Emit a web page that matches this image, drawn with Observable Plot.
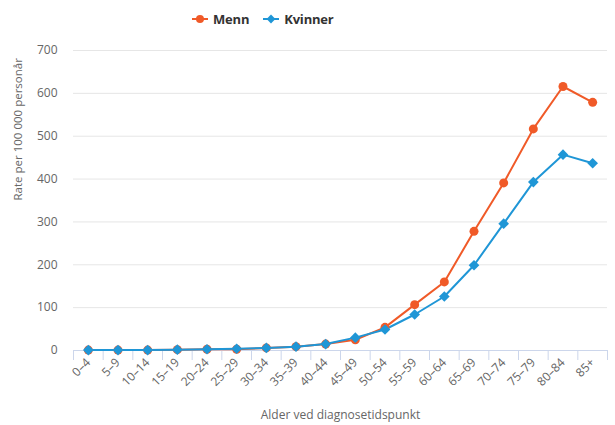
<!DOCTYPE html>
<html><head><meta charset="utf-8">
<script src="https://cdn.jsdelivr.net/npm/d3@7"></script>
<script src="https://cdn.jsdelivr.net/npm/@observablehq/plot@0.6"></script>
<style>
body{margin:0;background:#fff;font-family:"Open Sans",sans-serif;}
#wrap{position:relative;width:615px;height:425px;}
#legend{position:absolute;top:10px;left:192px;display:flex;gap:14px;font-size:13px;font-weight:bold;color:#333;letter-spacing:-0.2px;}
#legend span{display:flex;align-items:center;gap:5px;}
</style></head><body>
<div id="wrap"><div id="legend"></div><div id="chart"></div></div>
<script>
const ageGroups = ["0–4","5–9","10–14","15–19","20–24","25–29","30–34","35–39","40–44","45–49","50–54","55–59","60–64","65–69","70–74","75–79","80–84","85+"];
const menn =    [1, 1, 1, 2, 3, 3, 6, 9, 15, 25, 54, 107, 160, 278, 391, 517, 616, 579];
const kvinner = [1, 1, 1, 2, 3, 4, 6, 9, 15, 30, 49, 84, 126, 199, 296, 393, 457, 437];
const yTicks = [0,100,200,300,400,500,600,700];
const seriesNames = ["Menn","Kvinner"];
const colors = {"Menn":"#f05a28","Kvinner":"#1f96d6"};
const symbols = {"Menn":"circle","Kvinner":"diamond2"};

const rows = [];
ageGroups.forEach((a,i)=>{
  rows.push({i, age:a, serie:"Menn", v:menn[i]});
  rows.push({i, age:a, serie:"Kvinner", v:kvinner[i]});
});
const idx = d3.range(ageGroups.length);
const bounds = d3.range(ageGroups.length+1).map(i=>i-0.5);

const chart = Plot.plot({
  width:615, height:425,
  marginTop:50, marginBottom:75, marginLeft:73, marginRight:8,
  style:{fontFamily:"Open Sans, sans-serif", fontSize:"12px", color:"#666", background:"#fff"},
  x:{type:"linear", domain:[-0.5, ageGroups.length-0.5]},
  y:{domain:[0,700]},
  marks:[
    Plot.gridY(yTicks.filter(t=>t>0), {stroke:"#e6e6e6", strokeOpacity:1}),
    Plot.axisY({ticks:yTicks, tickSize:0, tickPadding:16, label:null, fontSize:12, fill:"#666"}),
    Plot.ruleY([0], {stroke:"#ccd6eb"}),
    Plot.axisX({ticks:bounds, tickSize:10, tickFormat:()=>"", stroke:"#ccd6eb", label:null}),
    Plot.axisX({ticks:idx, tickSize:0, tickFormat:i=>ageGroups[i], tickRotate:-45, tickPadding:10, fontSize:12, fill:"#666", label:null}),
    Plot.text(["Alder ved diagnosetidspunkt"], {frameAnchor:"bottom", dy:68, fill:"#666", fontSize:12}),
    Plot.text(["Rate per 100 000 personår"], {frameAnchor:"left", dx:-55, rotate:-90, fill:"#666", fontSize:11.5}),
    ...seriesNames.map(s=>Plot.line(rows.filter(r=>r.serie===s), {x:"i", y:"v", stroke:colors[s], strokeWidth:2})),
    ...seriesNames.map(s=>Plot.dot(rows.filter(r=>r.serie===s), {x:"i", y:"v", fill:colors[s], symbol:symbols[s], r: s==="Menn"?4.5:4.8}))
  ]
});
document.getElementById("chart").appendChild(chart);

const leg = d3.select("#legend");
seriesNames.forEach(s=>{
  const sp = leg.append("span");
  const svg = sp.append("svg").attr("width",16).attr("height",12);
  svg.append("line").attr("x1",0).attr("x2",16).attr("y1",6).attr("y2",6).attr("stroke",colors[s]).attr("stroke-width",2);
  svg.append("path").attr("transform","translate(8,6)").attr("fill",colors[s])
     .attr("d", d3.symbol(s==="Menn"?d3.symbolCircle:d3.symbolDiamond2, 50)());
  sp.append("span").text(s);
});
</script></body></html>
